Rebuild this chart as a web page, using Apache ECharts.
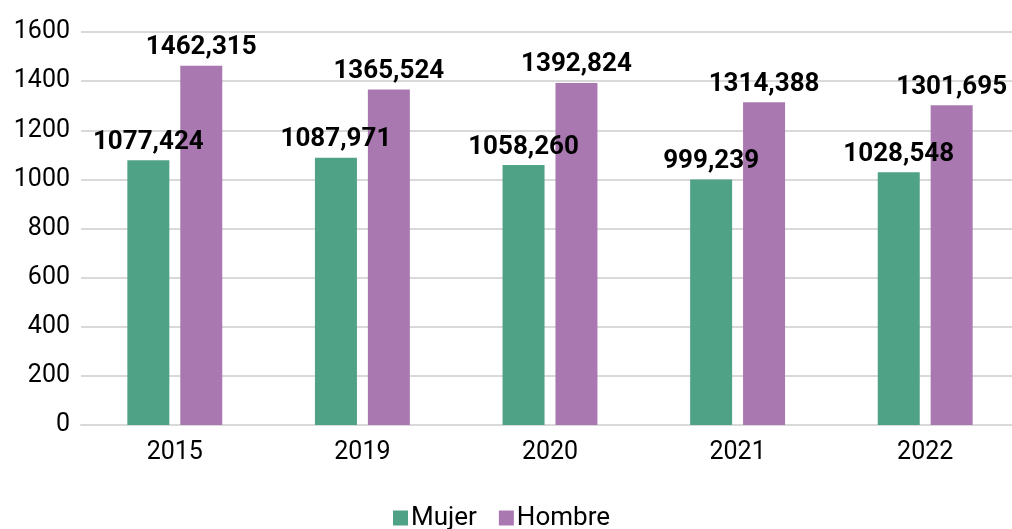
<!DOCTYPE html>
<html>
<head>
<meta charset="utf-8">
<title>Mujer / Hombre</title>
<script src="https://cdn.jsdelivr.net/npm/echarts@6/dist/echarts.min.js"></script>
<style>
  html, body { margin: 0; padding: 0; background: #fff; overflow: hidden; }
  #chart { width: 1024px; height: 529px; }
</style>
</head>
<body>
<div id="chart"></div>
<script>
  const years = ['2015', '2019', '2020', '2021', '2022'];
  const mujer = [1077.424, 1087.971, 1058.260, 999.239, 1028.548];
  const hombre = [1462.315, 1365.524, 1392.824, 1314.388, 1301.695];
  const yTicks = [0, 200, 400, 600, 800, 1000, 1200, 1400, 1600];

  // etiquetas con coma decimal y tres decimales
  function fmt(p) {
    return p.value.toFixed(3).replace('.', ',');
  }

  const chart = echarts.init(document.getElementById('chart'));
  const font = 'Roboto, "DejaVu Sans", sans-serif';

  const labelStyle = {
    show: true,
    position: 'top',
    distance: 5,
    formatter: fmt,
    color: '#000',
    fontFamily: font,
    fontWeight: 'bold',
    fontSize: 26
  };

  chart.setOption({
    animation: false,
    textStyle: { fontFamily: font },
    grid: { left: 81, top: 32, width: 938, height: 393 },
    legend: {
      top: 500,
      left: 388,
      itemWidth: 15,
      itemHeight: 15,
      itemGap: 22,
      icon: 'rect',
      textStyle: { fontSize: 26, color: '#000', fontFamily: font, padding: [0, 0, 0, -2] },
      data: ['Mujer', 'Hombre']
    },
    xAxis: {
      type: 'category',
      data: years,
      axisTick: { show: false },
      axisLine: { lineStyle: { color: '#d9d9d9', width: 2 } },
      axisLabel: { color: '#000', fontSize: 25, margin: 15 }
    },
    yAxis: {
      type: 'value',
      min: yTicks[0],
      max: yTicks[yTicks.length - 1],
      interval: 200,
      axisLine: { show: false },
      axisTick: { show: false },
      splitLine: { lineStyle: { color: '#d9d9d9', width: 2 } },
      axisLabel: { color: '#000', fontSize: 25, margin: 11, formatter: v => String(v) }
    },
    series: [
      {
        name: 'Mujer',
        type: 'bar',
        data: mujer,
        barWidth: 42,
        barGap: '26%',
        itemStyle: { color: '#4fa286' },
        label: labelStyle
      },
      {
        name: 'Hombre',
        type: 'bar',
        data: hombre,
        barWidth: 42,
        itemStyle: { color: '#aa78b0' },
        label: labelStyle
      }
    ]
  });
</script>
</body>
</html>
